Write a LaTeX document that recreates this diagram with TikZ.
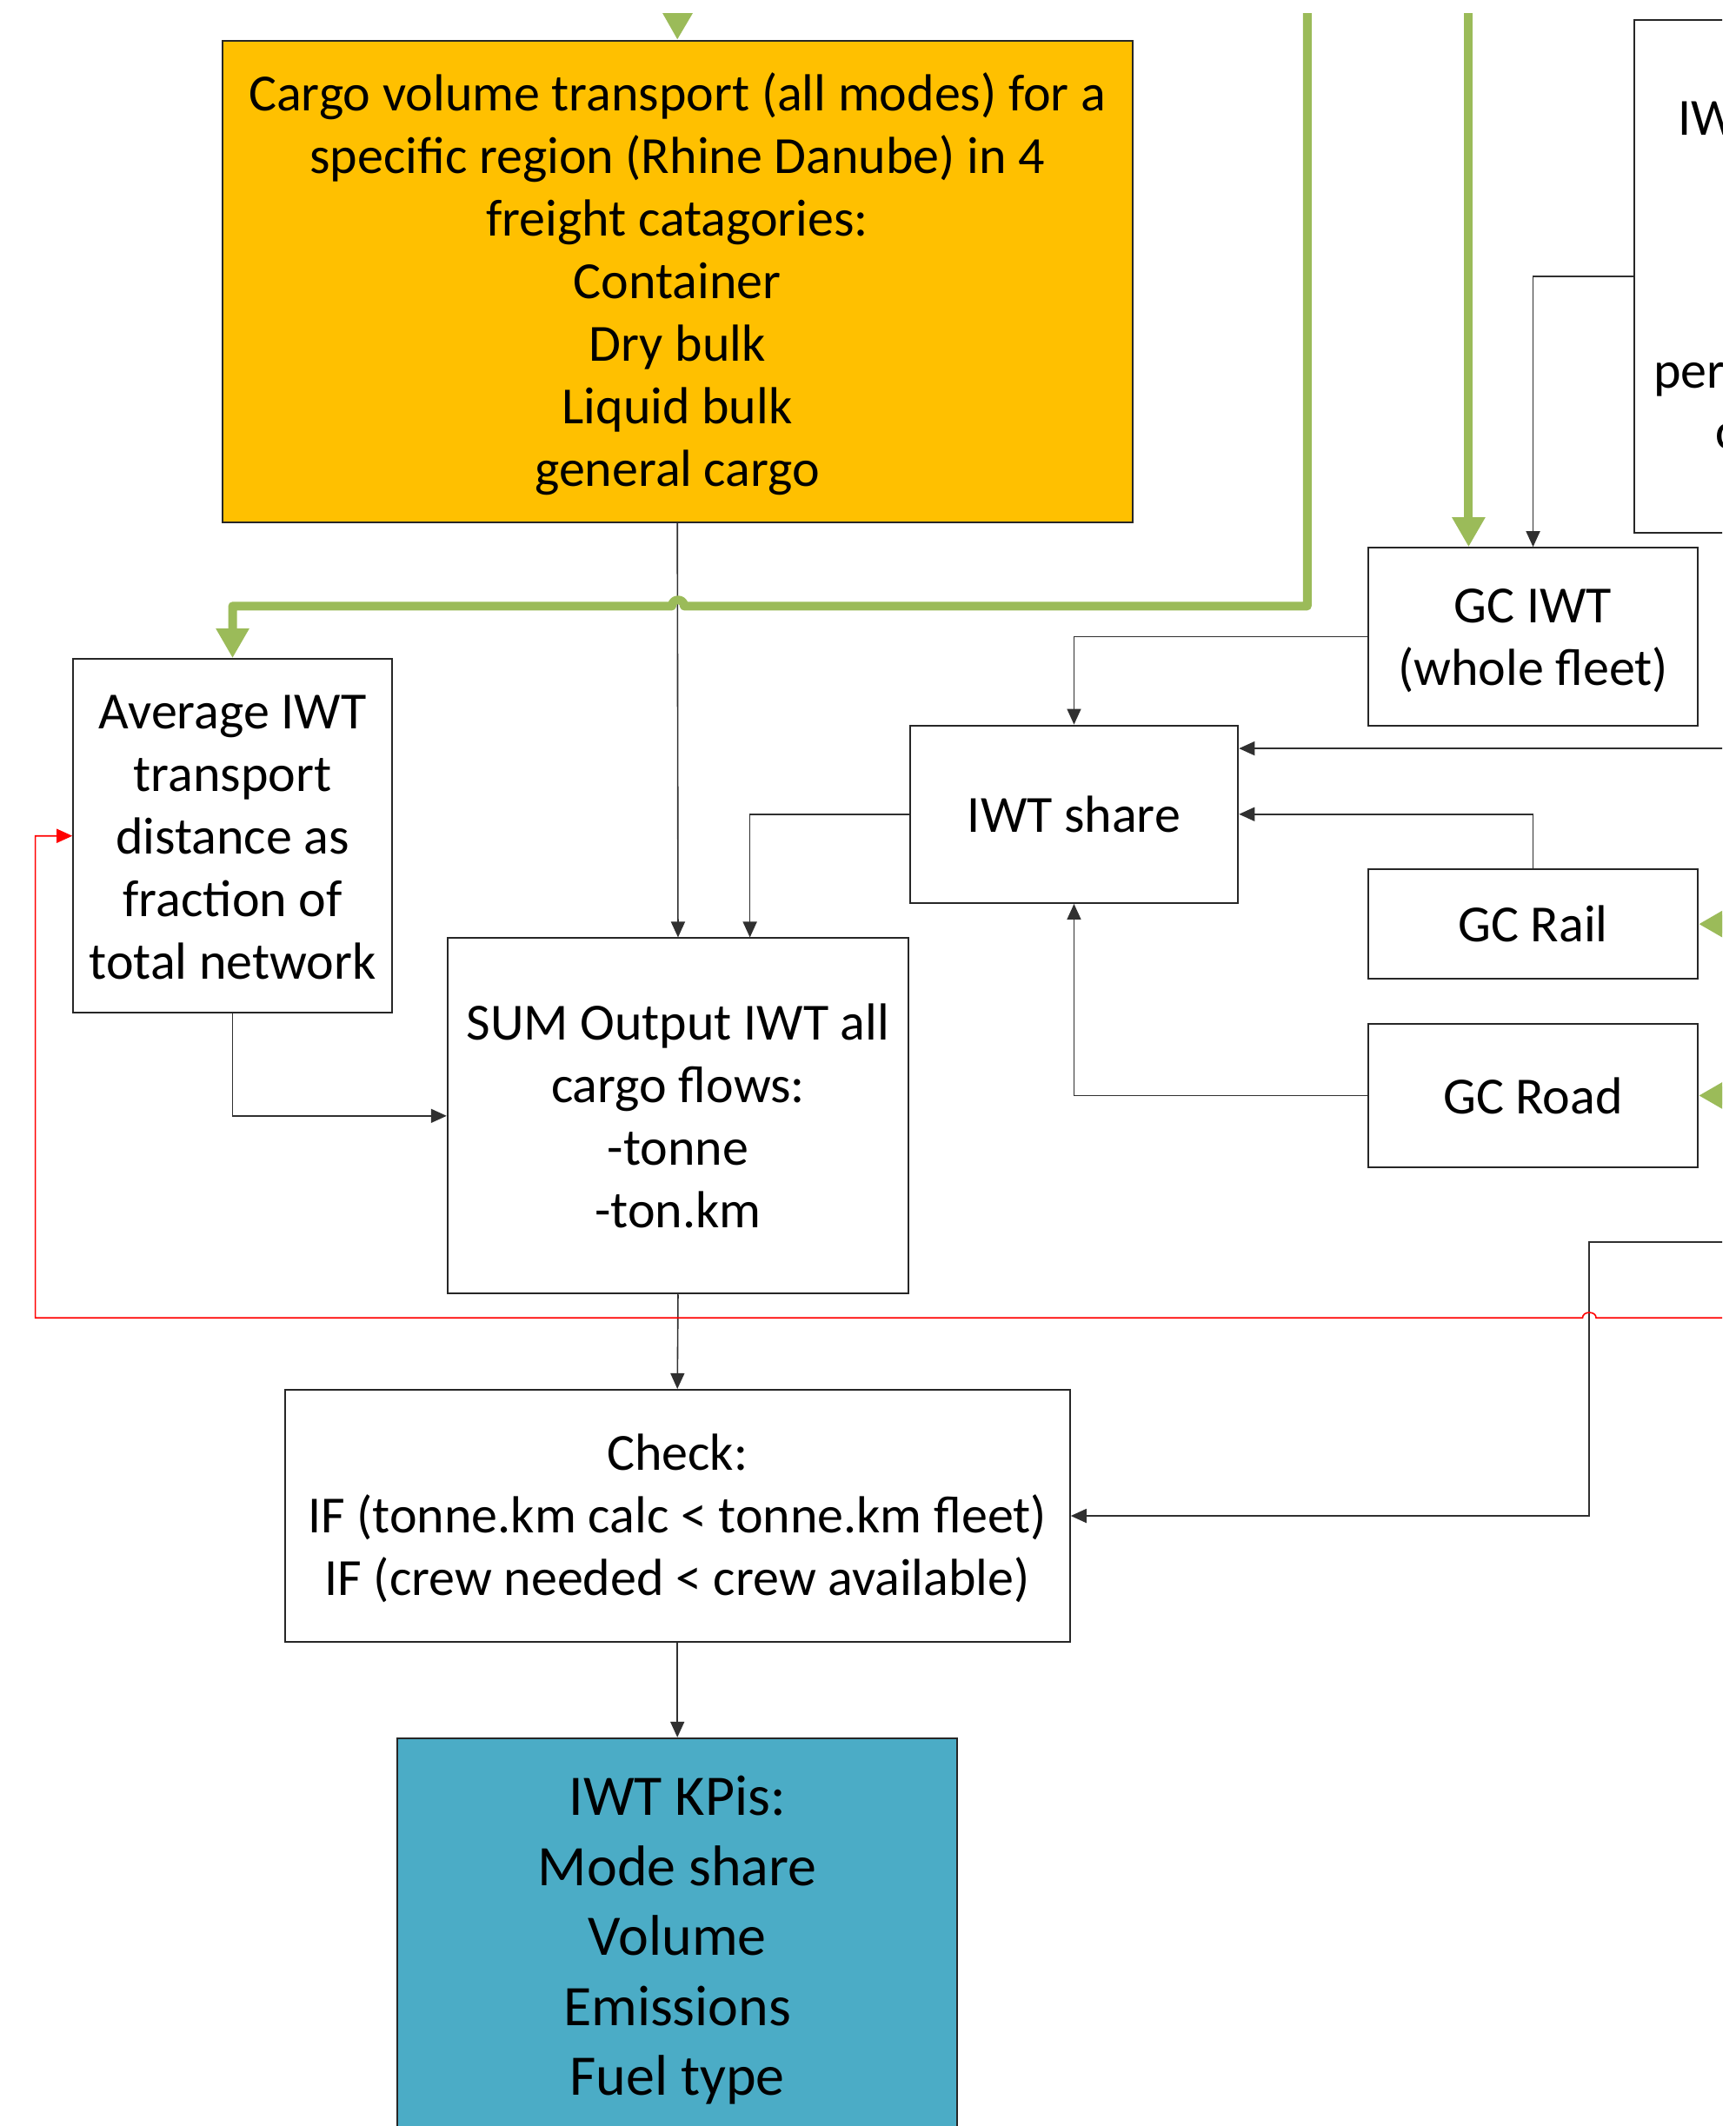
\documentclass[tikz,border=0pt]{standalone}
\usepackage{fontspec}
\setmainfont{Carlito}
\usetikzlibrary{arrows.meta}
\definecolor{cargoorange}{HTML}{FFC000}
\definecolor{kpiteal}{HTML}{4BACC6}
\definecolor{flowgreen}{HTML}{9BBB59}
\definecolor{linkgrey}{HTML}{303030}

\begin{document}
\begin{tikzpicture}[x=0.78pt,y=-0.78pt,
  box/.style={draw=black!85,line width=1pt,inner sep=0pt},
  txt/.style={align=center,inner sep=0pt,font=\fontsize{30}{36}\selectfont},
  bigtxt/.style={txt,font=\fontsize{33}{40.2}\selectfont},
  link/.style={draw=linkgrey,line width=0.8pt,-{Triangle[length=9pt,width=8pt]}},
  feedback/.style={draw=red,line width=0.8pt,-{Triangle[length=9pt,width=8pt]}},
  greenflow/.style={draw=flowgreen,line width=5pt,line join=round,
    -{Triangle[length=17pt,width=18pt]}},
  lbl/.style={font=\fontsize{30}{36}\selectfont,inner sep=0pt,anchor=base west}]

\useasboundingbox (0,0) rectangle (1280,1568);
\clip (0,10) rectangle (1270,1568);

% ---------- box frames ----------
\node[box,fill=cargoorange,minimum width=523.4pt,minimum height=276.9pt] (cargo) at (499.5,207.5) {};
\node[box,minimum width=183.3pt,minimum height=203.6pt] (avg) at (171.5,616.5) {};
\node[box,minimum width=265.2pt,minimum height=204.4pt] (sum) at (500,823) {};
\node[box,minimum width=451.6pt,minimum height=145.1pt] (check) at (499.5,1118) {};
\node[box,fill=kpiteal,minimum width=322.1pt,minimum height=227.8pt] (kpi) at (499.5,1428) {};
\node[box,minimum width=189.5pt,minimum height=102.2pt] (gciwt) at (1130.5,469.5) {};
\node[box,minimum width=188.8pt,minimum height=102.2pt] (share) at (792,600.5) {};
\node[box,minimum width=189.5pt,minimum height=63.2pt] (rail) at (1130.5,681.5) {};
\node[box,minimum width=189.5pt,minimum height=82.7pt] (road) at (1130.5,808) {};
\node[box,minimum width=245.7pt,minimum height=294.8pt] (fleet) at (1362.5,204) {};

% ---------- box texts ----------
\node[txt] (cargoT) at ([yshift=-1.6pt]cargo.center)
  {Cargo volume transport (all modes) for a\\specific region (Rhine Danube) in 4\\freight catagories:\\Container\\Dry bulk\\Liquid bulk\\general cargo};
\node[txt] (avgT) at ([yshift=-0.8pt]avg.center)
  {Average IWT\\transport\\distance as\\fraction of\\total network};
\node[txt] (sumT) at (sum.center) {SUM Output IWT all\\cargo flows:\\-tonne\\-ton.km};
\node[txt] (checkT) at ([yshift=-1.6pt]check.center)
  {Check:\\IF (tonne.km calc < tonne.km fleet)\\IF (crew needed < crew available)};
\node[bigtxt] (kpiT) at ([yshift=-2.3pt]kpi.center)
  {IWT KPis:\\Mode share\\Volume\\Emissions\\Fuel type};
\node[txt] (gciwtT) at ([yshift=-2.6pt]gciwt.center) {GC IWT\\(whole fleet)};
\node[txt] (shareT) at (share.center) {IWT share};
\node[txt] (railT) at (rail.center) {GC Rail};
\node[txt] (roadT) at (road.center) {GC Road};
\node[lbl] (fleetA) at (1237,100) {IWT fleet};
\node[lbl] (fleetB) at (1219,286) {performance};
\node[lbl] (fleetC) at (1265,331) {capacity};

% ---------- entry points beyond the frame ----------
\coordinate (topin)  at (500,-30);
\coordinate (g1top)  at (964,-30);
\coordinate (g2top)  at (1083,-30);
\coordinate (railin) at (1320,681.5);
\coordinate (roadin) at (1320,808);
\coordinate (shin)   at (1320,552);
\coordinate (chin)   at (1320,916);
\coordinate (redin)  at (1320,972);
\coordinate (sharedrop) at (553,0);

% ---------- black connectors ----------
\draw[link] (cargo.south) -- (sum.north);
\draw[link] (fleet.west) -| (gciwt.north);
\draw[link] (gciwt.west) -| (share.north);
\draw[link] (shin) -- (shin -| share.east);
\draw[link] (rail.north) |- (share.east);
\draw[link] (road.west) -| (share.south);
\draw[link] (share.west) -| (sharedrop |- sum.north);
\draw[link] (avg.south) |- (sum.west);
\draw[link] (sum.south) -- (check.north);
\draw[link] (check.south) -- (kpi.north);
\draw[link] (chin) -- (1172,916) |- (check.east);

% ---------- red feedback ----------
\draw[feedback] (redin) -- (1177,972) .. controls (1177,966.7) and (1167,966.7) .. (1167,972)
  -- (26,972) |- (avg.west);

% ---------- green flows ----------
\draw[greenflow] (topin) -- (cargo.north);
\draw[greenflow] (g1top) -- (964,447) -- (504.5,447)
  .. controls (504.5,441) and (495.5,441) .. (495.5,447) -- (171.5,447) -- (avg.north);
\draw[greenflow] (g2top) -- (g2top |- gciwt.north);
\draw[greenflow] (railin) -- (rail.east);
\draw[greenflow] (roadin) -- (road.east);

\end{tikzpicture}
\end{document}
